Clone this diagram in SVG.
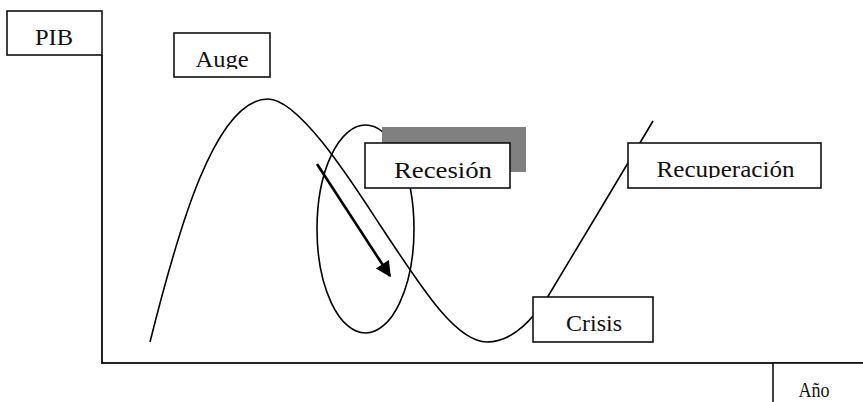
<svg xmlns="http://www.w3.org/2000/svg" width="863" height="402" viewBox="0 0 863 402">
<style>
.box{fill:#fff;stroke:#111;stroke-width:1.6}
.lbl{font-family:"Liberation Serif","Times New Roman",serif;font-size:24px;fill:#111;text-anchor:middle}
.ln{fill:none;stroke:#000;stroke-width:1.6}
.ax{fill:none;stroke:#222;stroke-width:2}
</style>
<defs>
<marker id="ah" viewBox="0 0 10 10" refX="9" refY="5" markerWidth="8" markerHeight="6" markerUnits="strokeWidth" orient="auto">
<path d="M0,0 L10,5 L0,10 Z" fill="#000"/>
</marker>
<clipPath id="cAuge"><rect x="174" y="33" width="96" height="36"/></clipPath>
<clipPath id="cRec"><rect x="628" y="143" width="193" height="35"/></clipPath>
</defs>
<rect width="863" height="402" fill="#fff"/>
<g id="axes">
<path class="ax" d="M102,55 L102,363 L863,363"/>
</g>
<g id="connectors">
<path class="ln" d="M150,342 C178,230 215,99 268,99 C300,99 355,187 380,225 C420,285 455,342 487,342 C515,342 535,315 547,298 C565,268 630,160 653,121"/>
<ellipse class="ln" cx="365.5" cy="229" rx="48.5" ry="104"/>
<line x1="317" y1="164" x2="390" y2="276" stroke="#000" stroke-width="2.6" marker-end="url(#ah)"/>
</g>
<g id="shadow">
<rect x="382" y="127" width="144" height="45" fill="#808080"/>
</g>
<g id="pib">
<rect class="box" x="7" y="11" width="95" height="44"/>
<text class="lbl" font-family="Liberation Serif, serif" x="54" y="45" textLength="38" lengthAdjust="spacingAndGlyphs">PIB</text>
</g>
<g id="auge">
<rect class="box" x="174" y="33" width="96" height="44"/>
<text class="lbl" font-family="Liberation Serif, serif" x="222" y="67" clip-path="url(#cAuge)" textLength="53" lengthAdjust="spacingAndGlyphs">Auge</text>
</g>
<g id="recesion">
<rect class="box" x="365" y="143" width="145" height="45"/>
<text class="lbl" font-family="Liberation Serif, serif" x="443" y="178" textLength="98" lengthAdjust="spacingAndGlyphs">Recesión</text>
</g>
<g id="recuperacion">
<rect class="box" x="628" y="143" width="193" height="45"/>
<text class="lbl" font-family="Liberation Serif, serif" x="725.5" y="177" clip-path="url(#cRec)" textLength="138" lengthAdjust="spacingAndGlyphs">Recuperación</text>
</g>
<g id="crisis">
<rect class="box" x="533" y="297" width="120" height="45"/>
<text class="lbl" font-family="Liberation Serif, serif" x="594" y="331" textLength="56" lengthAdjust="spacingAndGlyphs">Crisis</text>
</g>
<g id="anio">
<rect class="box" x="773" y="363" width="100" height="50"/>
<text class="lbl" font-family="Liberation Serif, serif" x="814" y="397" style="font-size:22px" textLength="31" lengthAdjust="spacingAndGlyphs">Año</text>
</g>
</svg>
